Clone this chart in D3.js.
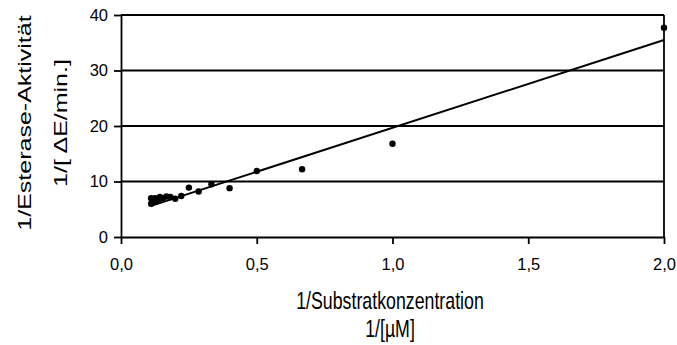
<!DOCTYPE html>
<html>
<head>
<meta charset="utf-8">
<script src="https://cdn.jsdelivr.net/npm/d3@7"></script>
<style>
  body { margin: 0; background: #fff; }
  svg { display: block; font-family: "Liberation Sans", Arial, sans-serif; }
</style>
</head>
<body>
<svg id="chart" width="677" height="345"></svg>
<script>
// data (Lineweaver-Burk plot)
const invSubstrate = [0.111, 0.111, 0.118, 0.125, 0.125, 0.133, 0.143, 0.143, 0.154, 0.167, 0.182, 0.2, 0.222,
                      0.25, 0.286, 0.333, 0.4, 0.5, 0.667, 1.0, 2.0];
const invActivity = [7.0, 6.0, 6.3, 6.5, 7.0, 6.6, 6.9, 7.2, 7.0, 7.3, 7.2, 6.9, 7.4,
                     8.9, 8.2, 9.5, 8.8, 11.9, 12.2, 16.8, 37.7];
// regression line end points
const trendX = [0.111, 2.0];
const trendY = [5.6, 35.5];

const xTicks = [0, 0.5, 1.0, 1.5, 2.0];
const yTicks = [0, 10, 20, 30, 40];

const svg = d3.select('#chart');
const margin = {top: 15, right: 13, bottom: 108, left: 121};
const width = 677, height = 345;
const innerwidth = width - margin.left - margin.right;
const innerheight = height - margin.top - margin.bottom;

const xScale = d3.scaleLinear().domain([0, 2]).range([0, innerwidth]);
const yScale = d3.scaleLinear().domain([0, 40]).range([innerheight, 0]);

const g = svg.append('g').attr('transform', `translate(${margin.left},${margin.top})`);

// horizontal gridlines
g.selectAll('.grid').data(yTicks.filter(d => d > 0)).enter().append('line')
  .attr('class', 'grid')
  .attr('x1', 0).attr('x2', innerwidth)
  .attr('y1', d => yScale(d)).attr('y2', d => yScale(d))
  .attr('stroke', '#000').attr('stroke-width', 1.8);

// right frame
g.append('line')
  .attr('x1', innerwidth).attr('x2', innerwidth)
  .attr('y1', 0).attr('y2', innerheight)
  .attr('stroke', '#000').attr('stroke-width', 1.8);

// axes
const fmt = d => d3.format('.1f')(d).replace('.', ',');
const xAxisG = g.append('g').attr('transform', `translate(0,${innerheight})`)
  .call(d3.axisBottom(xScale).tickValues(xTicks).tickFormat(fmt).tickSize(7).tickPadding(14).tickSizeOuter(0));
const yAxisG = g.append('g')
  .call(d3.axisLeft(yScale).tickValues(yTicks).tickFormat(d3.format('d')).tickSize(7).tickPadding(6).tickSizeOuter(0));

[xAxisG, yAxisG].forEach(a => {
  a.selectAll('path, line').attr('stroke', '#000').attr('stroke-width', 1.8);
  a.selectAll('text').attr('fill', '#000').style('font-size', '16.5px')
    .style('font-family', '"Liberation Sans", Arial, sans-serif');
});

// trend line
const lineGen = d3.line().x(d => xScale(d[0])).y(d => yScale(d[1]));
g.append('path')
  .attr('d', lineGen(d3.zip(trendX, trendY)))
  .attr('fill', 'none').attr('stroke', '#000').attr('stroke-width', 2);

// points
g.selectAll('.dot').data(d3.zip(invSubstrate, invActivity)).enter().append('circle')
  .attr('class', 'dot')
  .attr('cx', d => xScale(d[0]))
  .attr('cy', d => yScale(d[1]))
  .attr('r', 3.2)
  .attr('fill', '#000');

// axis titles (the source image is squeezed horizontally)
const sx = 0.74;
const xTitle = svg.append('g').attr('transform', `translate(390,0) scale(${sx},1)`);
xTitle.append('text').attr('x', 0).attr('y', 309).attr('text-anchor', 'middle')
  .style('font-size', '24px').text('1/Substratkonzentration');
xTitle.append('text').attr('x', 0).attr('y', 337).attr('text-anchor', 'middle')
  .style('font-size', '24px').text('1/[µM]');

const yTitle = svg.append('g').attr('transform', `translate(0,123) scale(${sx},1) rotate(-90)`);
yTitle.append('text').attr('x', 0).attr('y', 42).attr('text-anchor', 'middle')
  .style('font-size', '25px').text('1/Esterase-Aktivität');
yTitle.append('text').attr('x', 0).attr('y', 90).attr('text-anchor', 'middle')
  .style('font-size', '25px').text('1/[ ΔE/min.]');
</script>
</body>
</html>
